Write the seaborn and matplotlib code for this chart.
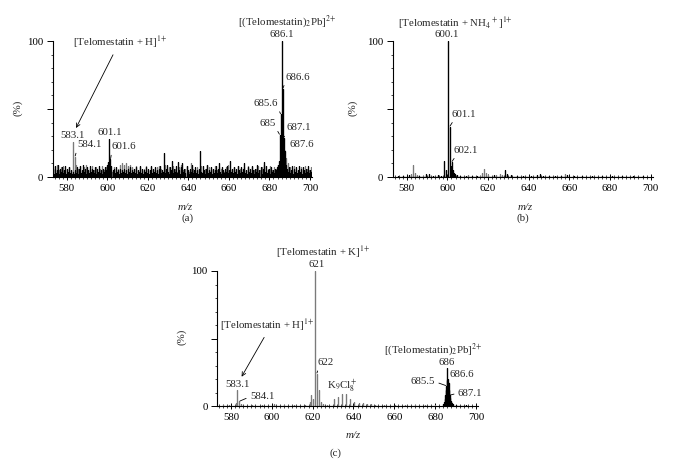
import numpy as np
import matplotlib
matplotlib.use("Agg")
import matplotlib.pyplot as plt
from matplotlib.ticker import MultipleLocator, FixedLocator
import seaborn as sns

# ---------------- data ----------------
# panel (a): black trace, one stick every 0.5 m/z starting at 573.1
a_black_start, a_black_step = 573.1, 0.5
a_black = [
    6, 2, 8, 3, 5, 9, 2, 6, 4, 7, 3, 5, 8, 2, 6, 4, 7, 3, 5, 2,
    4, 2, 5, 3, 7, 2, 6, 8, 3, 5, 9, 4, 6, 2, 7, 5, 3, 8, 4, 6,
    5, 3, 7, 2, 6, 4, 8, 3, 5, 2, 6, 4, 7, 5, 9, 11, 28, 13, 8, 5,
    6, 3, 7, 4, 5, 2, 6, 3, 5, 4, 6, 3, 5, 2, 6, 4, 7, 3, 5, 4,
    6, 3, 7, 2, 5, 4, 8, 3, 6, 2, 5, 4, 7, 3, 6, 2, 5, 8, 3, 6,
    4, 7, 3, 5, 2, 6, 8, 3, 5, 4, 18, 3, 6, 9, 4, 2, 7, 5, 12, 3,
    6, 4, 8, 3, 11, 5, 2, 7, 10, 4, 6, 3, 8, 5, 2, 6, 4, 9, 3, 5,
    7, 3, 5, 2, 6, 19, 4, 3, 8, 5, 2, 6, 9, 3, 5, 4, 7, 2, 6, 3,
    5, 8, 3, 6, 10, 4, 2, 7, 5, 3, 6, 4, 8, 3, 5, 12, 4, 6, 3, 7,
    4, 6, 2, 8, 5, 3, 7, 4, 6, 10, 3, 5, 2, 7, 4, 6, 3, 8, 5, 2,
    6, 4, 9, 3, 5, 7, 2, 6, 11, 4, 8, 3, 5, 6, 2, 7, 4, 5, 3, 6,
    5, 7, 9, 12, 31, 46, 100, 65, 29, 19, 9, 6, 4, 7, 3, 5, 8, 2, 6, 4,
    7, 3, 5, 8, 4, 6, 2, 7, 5, 3, 6, 4, 8, 3, 5, 4,
]
# panel (a): grey trace, one stick every 1 m/z starting at 573.35
a_gray_start, a_gray_step = 573.35, 1.0
a_gray = [
    8, 6, 9, 5, 7, 8, 4, 6, 7, 5,
    3, 9, 6, 8, 4, 7, 9, 5, 6, 8,
    5, 7, 4, 6, 8, 5, 7, 9, 6, 4,
    7, 5, 6, 9, 10, 9, 10, 8, 9, 7,
    6, 8, 5, 7, 4, 6, 8, 5, 7, 6,
    5, 7, 8, 6, 4, 9, 6, 7, 5, 8,
    6, 4, 7, 9, 5, 6, 8, 4, 10, 6,
    5, 7, 6, 8, 4, 6, 9, 7, 5, 6,
    8, 5, 7, 6, 4, 7, 9, 5, 6, 7,
    5, 8, 6, 4, 7, 5, 8, 6, 7, 5,
    6, 8, 5, 7, 9, 4, 6, 8, 5, 7,
    6, 9, 12, 15, 20, 14, 10, 7, 5, 8,
    6, 4, 7, 5, 8, 6, 5, 7,
]
a_gray_peaks_mz = [583.1, 584.1]
a_gray_peaks_int = [26, 15]

# panel (b)
b_black_mz = [575.6, 578.1, 581.1, 586.1, 589.6, 591.1, 593.1, 595.6, 597.1,
              598.1, 599.1, 600.1, 601.1, 601.6, 602.1, 602.6, 603.1, 603.6,
              604.6, 606.1, 609.1, 612.1, 614.6, 623.1, 628.1, 629.1, 631.1,
              634.1, 637.1, 641.1, 644.1, 645.6, 647.1, 650.1, 653.1, 656.1,
              658.6, 662.1, 666.1, 671.1, 676.1, 681.1, 686.1, 691.1, 696.1]
b_black_int = [1, 1, 1.5, 1, 2, 2.5, 1, 1.5, 1,
               12, 5, 100, 37, 8, 11, 5, 3, 2,
               1.5, 1, 1, 1, 1, 1.5, 5, 2, 1.5,
               1, 1, 1, 1.5, 2, 1, 1, 1, 1,
               1.5, 1, 1, 1, 1, 1, 1, 1, 1]
b_gray_mz = [582.1, 583.1, 584.1, 585.1, 588.1, 610.1, 616.1, 617.1, 618.1,
             619.1, 620.1, 624.1, 626.1, 627.1, 658.1]
b_gray_int = [2, 9, 3, 1.5, 1, 1.5, 1, 3, 6, 3, 1.5, 1.5, 2, 1.5, 2]

# panel (c)
c_gray_mz = [576.1, 579.1, 582.6, 583.1, 584.1, 585.1, 590.1, 595.1, 601.1,
             606.1, 611.1, 616.1, 618.6, 619.1, 620.1, 621.0, 622.0, 623.0,
             624.0, 625.0, 627.0, 630.5, 632.5, 634.5, 636.5, 638.5, 640.5,
             642.5, 644.5, 646.5, 648.5, 650.5, 655.1, 660.1, 665.1, 670.1,
             675.1, 680.1]
c_gray_int = [1, 1, 2, 12, 3.5, 1.5, 1, 1, 1.5,
              1, 1, 1, 3, 8, 5, 100, 24, 12,
              3, 1.5, 1, 5, 7, 9, 9, 5, 3,
              2.5, 2, 1.5, 1.5, 1, 1, 1, 1, 1,
              1, 1]
c_black_mz = [684.0, 684.5, 684.75, 685.0, 685.25, 685.5, 685.75, 686.0, 686.3,
              686.6, 686.85, 687.1, 687.35, 687.6, 687.85, 688.1, 688.6, 690.1,
              695.1]
c_black_int = [1.5, 3, 5, 8, 12, 15, 19, 28, 20,
               17, 12, 8, 6, 4, 3, 2, 1.5, 1,
               1]

x_ticks = [580, 600, 620, 640, 660, 680, 700]
y_ticks = [0, 50, 100]
y_ticklabels = ["0", "", "100"]

# ---------------- style ----------------
sns.set_theme(style="ticks")
plt.rcParams["font.family"] = ["Liberation Serif", "DejaVu Serif"]
plt.rcParams["mathtext.fontset"] = "stix"
FS = 7.8
GRAY = "#7a7a7a"
W, H = 681, 461

fig = plt.figure(figsize=(W / 100, H / 100), dpi=100)
fig.patch.set_facecolor("white")


def px_axes(left, right, top, bottom):
    return fig.add_axes([left / W, 1 - bottom / H, (right - left) / W, (bottom - top) / H])


ax_a = px_axes(52.5, 312.0, 41, 177)
ax_b = px_axes(392.5, 652.7, 41, 177)
ax_c = px_axes(216.7, 478.0, 271, 406)


def sticks(ax, mz, inten, color, lw=0.85):
    mz = np.asarray(mz, float)
    h = np.asarray(inten, float)
    x = np.repeat(mz, 3)
    z = np.zeros_like(h)
    y = np.column_stack([z, h, z]).ravel()
    sns.lineplot(x=x, y=y, ax=ax, color=color, linewidth=lw,
                 estimator=None, sort=False)


def style_axes(ax):
    ax.set_xlim(573, 701)
    ax.set_ylim(0, 100)
    ax.set_facecolor("white")
    for s in ["top", "right"]:
        ax.spines[s].set_visible(False)
    for s in ["left", "bottom"]:
        ax.spines[s].set_linewidth(0.8)
        ax.spines[s].set_color("black")
    ax.xaxis.set_major_locator(FixedLocator(x_ticks))
    ax.xaxis.set_minor_locator(MultipleLocator(2))
    ax.yaxis.set_major_locator(FixedLocator(y_ticks))
    ax.yaxis.set_minor_locator(MultipleLocator(10))
    ax.set_yticklabels(y_ticklabels)
    ax.tick_params(axis="x", which="major", direction="inout", length=5, width=0.7,
                   pad=2.5, labelsize=FS, colors="black")
    ax.tick_params(axis="x", which="minor", direction="inout", length=3, width=0.6)
    ax.tick_params(axis="y", which="major", direction="out", length=4, width=0.7,
                   pad=2.5, labelsize=FS, colors="black")
    ax.tick_params(axis="y", which="minor", direction="out", length=1.8, width=0.6)
    ax.set_xlabel("")
    ax.set_ylabel("")


def lab(ax, text, xy, off, ha="center", va="bottom", rel=None, fs=FS):
    kw = {}
    if rel is not None:
        kw["arrowprops"] = dict(arrowstyle="-", lw=0.6, color="black",
                                shrinkA=0.5, shrinkB=0.5, relpos=rel)
    ax.annotate(text, xy=xy, xytext=off, textcoords="offset points",
                ha=ha, va=va, fontsize=fs, annotation_clip=False, **kw)


def ftext(px, py, s, **kw):
    fig.text(px / W, 1 - py / H, s, ha="center", va="center", fontsize=FS, **kw)


# ---------------- panel (a) ----------------
a_gray_mz = a_gray_start + a_gray_step * np.arange(len(a_gray))
a_black_mz = a_black_start + a_black_step * np.arange(len(a_black))
sticks(ax_a, a_gray_mz, a_gray, GRAY)
sticks(ax_a, a_gray_peaks_mz, a_gray_peaks_int, GRAY)
sticks(ax_a, a_black_mz, a_black, "black")
style_axes(ax_a)

lab(ax_a, "686.1", (686.1, 100), (0, 1.5))
lab(ax_a, r"[(Telomestatin)$_2$Pb]$^{2{+}}$", (686.1, 100), (3.6, 13.7), va="center")
lab(ax_a, "686.6", (686.6, 65), (2, 8.3), ha="left", va="center", rel=(0, 0))
lab(ax_a, "685.6", (685.6, 46), (-2, 8), ha="right", va="center", rel=(1, 0))
lab(ax_a, "685", (685.1, 31), (-3, 8.5), ha="right", va="center", rel=(1, 0))
lab(ax_a, "687.1", (687.1, 29), (2, 7), ha="left", va="center", rel=(0, 0))
lab(ax_a, "687.6", (687.6, 19), (3, 4.5), ha="left", va="center", rel=(0, 0))
lab(ax_a, "583.1", (583.1, 26), (0, 1.5))
lab(ax_a, "584.1", (584.1, 15), (1.5, 8.5), ha="left", va="center", rel=(0, 0))
lab(ax_a, "601.1", (601.1, 28), (0, 1.5))
lab(ax_a, "601.6", (601.6, 13), (1, 9), ha="left", va="center", rel=(0, 0))
ax_a.annotate(r"[Telomestatin + H]$^{1{+}}$", xy=(584.6, 36), xytext=(606.3, 99),
              ha="center", va="center", fontsize=FS, annotation_clip=False,
              arrowprops=dict(arrowstyle="->", lw=0.6, color="black",
                              shrinkA=1, shrinkB=0, relpos=(0.45, 0),
                              mutation_scale=7))

# ---------------- panel (b) ----------------
sticks(ax_b, b_gray_mz, b_gray_int, GRAY)
sticks(ax_b, b_black_mz, b_black_int, "black")
style_axes(ax_b)
lab(ax_b, "600.1", (600.1, 100), (-0.5, 1.5))
lab(ax_b, r"[Telomestatin + NH$_4$$^+$]$^{1{+}}$", (600.1, 100), (5.8, 13), va="center")
lab(ax_b, "601.1", (601.1, 37), (1.0, 9), ha="left", va="center", rel=(0.15, 0))
lab(ax_b, "602.1", (602.1, 11), (1.0, 8.6), ha="left", va="center", rel=(0.15, 0))

# ---------------- panel (c) ----------------
sticks(ax_c, c_gray_mz, c_gray_int, GRAY)
sticks(ax_c, c_black_mz, c_black_int, "black")
style_axes(ax_c)
lab(ax_c, "621", (621.0, 100), (1.2, 1.5))
lab(ax_c, r"[Telomestatin + K]$^{1{+}}$", (621.0, 100), (6.3, 13.9), va="center")
lab(ax_c, "622", (622.0, 24), (0.5, 8), ha="left", va="center", rel=(0.1, 0))
lab(ax_c, "583.1", (583.1, 12), (0.3, 0.5))
lab(ax_c, "584.1", (584.1, 3.5), (7.7, 3.3), ha="left", va="center", rel=(0, 0.5))
lab(ax_c, "686", (686.0, 28), (-0.8, 0.8))
lab(ax_c, "686.6", (686.6, 17), (1, 6), ha="left", va="center", rel=(0, 0))
lab(ax_c, "685.5", (685.5, 15), (-8.2, 2.9), ha="right", va="center", rel=(1, 0.5))
lab(ax_c, "687.1", (687.1, 8), (6, 1.5), ha="left", va="center", rel=(0, 0.5))
ax_c.text(634.4, 14.3, r"K$_9$Cl$_8^+$", ha="center", va="center", fontsize=FS)
ax_c.text(678.9, 41.5, r"[(Telomestatin)$_2$Pb]$^{2{+}}$", ha="center", va="center",
          fontsize=FS)
ax_c.annotate(r"[Telomestatin + H]$^{1{+}}$", xy=(585.2, 21.7), xytext=(597.5, 60),
              ha="center", va="center", fontsize=FS, annotation_clip=False,
              arrowprops=dict(arrowstyle="->", lw=0.6, color="black",
                              shrinkA=1, shrinkB=0, relpos=(0.5, 0),
                              mutation_scale=7))

# ---------------- axis titles and panel letters ----------------
ftext(18, 108, "(%)", rotation=90)
ftext(353, 108, "(%)", rotation=90)
ftext(182, 337, "(%)", rotation=90)
ftext(185, 207, "m/z", style="italic")
ftext(525, 207, "m/z", style="italic")
ftext(353, 435, "m/z", style="italic")
ftext(187, 218, "(a)")
ftext(523, 218, "(b)")
ftext(335, 453, "(c)")

fig.savefig("out.png", dpi=100, facecolor="white")
